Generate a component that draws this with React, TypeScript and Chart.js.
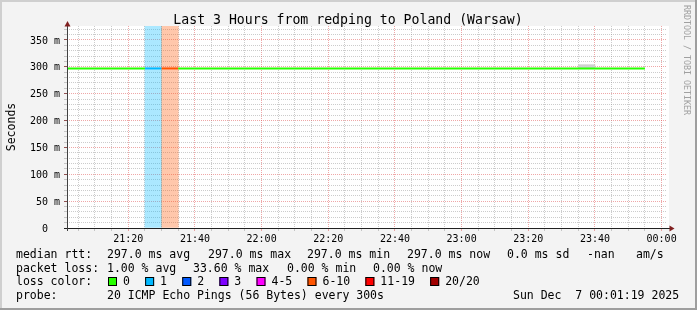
import { useEffect, useRef } from 'react';
import { Chart, registerables } from 'chart.js';

Chart.register(...registerables);

// ---------- data ----------
const TITLE = 'Last 3 Hours from redping to Poland (Warsaw)';
const Y_AXIS_TITLE = 'Seconds';
const WATERMARK = 'RRDTOOL / TOBI OETIKER';

const AXIS_START = '21:01:37';
const AXIS_SPAN_S = 3 * 3600;
const STEP_S = 300;
const Y_MAX_MS = 376;
const Y_MINOR_STEP = 10;
const Y_MAJOR_STEP = 50;
const X_MINOR_STEP_S = 300;
const X_MAJOR_STEP_S = 1200;

const intervalStarts = [
  '21:00', '21:05', '21:10', '21:15', '21:20', '21:25', '21:30', '21:35', '21:40', '21:45', '21:50', '21:55',
  '22:00', '22:05', '22:10', '22:15', '22:20', '22:25', '22:30', '22:35', '22:40', '22:45', '22:50', '22:55',
  '23:00', '23:05', '23:10', '23:15', '23:20', '23:25', '23:30', '23:35', '23:40', '23:45', '23:50',
];
const medianMs = [
  297, 297, 297, 297, 297, 297, 297, 297, 297, 297, 297, 297,
  297, 297, 297, 297, 297, 297, 297, 297, 297, 297, 297, 297,
  297, 297, 297, 297, 297, 297, 297, 297, 297, 297, 297,
];
const lossPings = [
  0, 0, 0, 0, 0, 1, 7, 0, 0, 0, 0, 0,
  0, 0, 0, 0, 0, 0, 0, 0, 0, 0, 0, 0,
  0, 0, 0, 0, 0, 0, 0, 0, 0, 0, 0,
];
const smokeMaxMs: (number | null)[] = [
  null, null, null, null, null, null, null, null, null, null, null, null,
  null, null, null, null, null, null, null, null, null, null, null, null,
  null, null, null, null, null, null, null, 304, null, null, null,
];

const lossBinLabels = ['0', '1', '2', '3', '4-5', '6-10', '11-19', '20/20'];
const lossBinMaxPings = [0, 1, 2, 3, 5, 10, 19, 20];
const lossBinColors = ['#26ff00', '#00b8ff', '#0059ff', '#7e00ff', '#ff00ff', '#ff5500', '#ff0000', '#a10000'];

const legendHeads = ['median rtt:', 'packet loss:', 'loss color:', 'probe:'];
const rttStats = ['297.0 ms avg', '297.0 ms max', '297.0 ms min', '297.0 ms now', '0.0 ms sd', '-nan', 'am/s'];
const lossStats = ['1.00 % avg', '33.60 % max', '0.00 % min', '0.00 % now'];
const probeText = '20 ICMP Echo Pings (56 Bytes) every 300s';
const timestampText = 'Sun Dec  7 00:01:19 2025';

// ---------- helpers ----------
const toSec = (s: string) => {
  const p = s.split(':').map(Number);
  return p[0] * 3600 + p[1] * 60 + (p[2] || 0);
};
const X_MIN = toSec(AXIS_START);
const X_MAX = X_MIN + AXIS_SPAN_S;
const lossBin = (n: number) => {
  for (let i = 0; i < lossBinMaxPings.length; i++) if (n <= lossBinMaxPings[i]) return i;
  return lossBinMaxPings.length - 1;
};
const hexA = (hex: string, a: number) => {
  const v = parseInt(hex.slice(1), 16);
  return `rgba(${(v >> 16) & 255},${(v >> 8) & 255},${v & 255},${a})`;
};
const pad2 = (n: number) => String(n).padStart(2, '0');
const fmtTime = (v: number) => {
  const d = ((v % 86400) + 86400) % 86400;
  return `${pad2(Math.floor(d / 3600))}:${pad2(Math.floor((d % 3600) / 60))}`;
};

const MONO = "'DejaVu Sans Mono', monospace";
const GRID_COLOR = 'rgba(143,143,143,0.46)';
const MGRID_COLOR = 'rgba(224,80,80,0.5)';

const rrdPlugin = {
  id: 'rrdFrame',
  beforeDraw(chart: any) {
    const { ctx, width, height, chartArea: a } = chart;
    ctx.save();
    ctx.fillStyle = '#f3f3f3';
    ctx.fillRect(0, 0, width, height);
    ctx.fillStyle = '#cfcfcf';
    ctx.fillRect(0, 0, width, 2);
    ctx.fillRect(0, 0, 2, height);
    ctx.fillStyle = '#9e9e9e';
    ctx.fillRect(0, height - 2, width, 2);
    ctx.fillRect(width - 2, 0, 2, height);
    ctx.fillStyle = '#ffffff';
    ctx.fillRect(a.left, a.top, a.right - a.left + 2, a.bottom - a.top);
    ctx.restore();
  },
  afterDatasetsDraw(chart: any) {
    const { ctx, chartArea: a } = chart;
    ctx.save();
    ctx.lineWidth = 1;
    // x axis
    ctx.strokeStyle = '#202020';
    ctx.beginPath();
    ctx.moveTo(a.left - 3, a.bottom + 0.5);
    ctx.lineTo(a.right + 3, a.bottom + 0.5);
    ctx.stroke();
    // y axis
    ctx.strokeStyle = '#404040';
    ctx.beginPath();
    ctx.moveTo(a.left + 0.5, a.bottom + 3);
    ctx.lineTo(a.left + 0.5, a.top - 1);
    ctx.stroke();
    // arrows
    ctx.fillStyle = '#802020';
    ctx.beginPath();
    ctx.moveTo(a.right + 2.5, a.bottom - 2.5);
    ctx.lineTo(a.right + 7.5, a.bottom + 0.5);
    ctx.lineTo(a.right + 2.5, a.bottom + 3.5);
    ctx.closePath();
    ctx.fill();
    ctx.beginPath();
    ctx.moveTo(a.left - 2.5, a.top + 0.5);
    ctx.lineTo(a.left + 0.5, a.top - 5);
    ctx.lineTo(a.left + 3.5, a.top + 0.5);
    ctx.closePath();
    ctx.fill();
    ctx.restore();
  },
  afterDraw(chart: any) {
    const { ctx } = chart;
    ctx.save();
    ctx.fillStyle = '#000';
    ctx.textBaseline = 'alphabetic';
    // title
    ctx.font = `13.2px ${MONO}`;
    ctx.textAlign = 'center';
    ctx.fillText(TITLE, 348, 24);
    // y axis title
    ctx.font = `11.5px ${MONO}`;
    ctx.save();
    ctx.translate(15, 127);
    ctx.rotate(-Math.PI / 2);
    ctx.fillText(Y_AXIS_TITLE, 0, 0);
    ctx.restore();
    // watermark
    ctx.save();
    ctx.font = `8.3px ${MONO}`;
    ctx.fillStyle = '#a0a0a0';
    ctx.textAlign = 'left';
    ctx.translate(684, 5);
    ctx.rotate(Math.PI / 2);
    ctx.fillText(WATERMARK, 0, 0);
    ctx.restore();
    // legend
    ctx.font = `11.5px ${MONO}`;
    ctx.textAlign = 'left';
    const rows = [258, 271.5, 285, 298.5];
    const headX = 16;
    legendHeads.forEach((h, i) => ctx.fillText(h, headX, rows[i]));
    const rttX = [107, 208, 307, 407, 507, 587, 636];
    rttStats.forEach((s, i) => ctx.fillText(s, rttX[i], rows[0]));
    const lossX = [107, 193, 287, 373];
    lossStats.forEach((s, i) => ctx.fillText(s, lossX[i], rows[1]));
    let bx = 108;
    lossBinLabels.forEach((lab, i) => {
      ctx.fillStyle = lossBinColors[i];
      ctx.fillRect(bx, rows[2] - 8, 9, 9);
      ctx.strokeStyle = '#000';
      ctx.lineWidth = 1;
      ctx.strokeRect(bx + 0.5, rows[2] - 7.5, 8, 8);
      ctx.fillStyle = '#000';
      const tx = bx + 15;
      ctx.fillText(lab, tx, rows[2]);
      bx = tx + ctx.measureText(lab).width + 15.2;
    });
    ctx.fillText(probeText, 107, rows[3]);
    ctx.fillText(timestampText, 513, rows[3]);
    ctx.restore();
  },
};

export default function App() {
  const ref = useRef<HTMLCanvasElement | null>(null);

  useEffect(() => {
    document.body.style.margin = '0';
    const canvas = ref.current!;
    const starts = intervalStarts.map(toSec);
    const centers = starts.map((s) => s + STEP_S / 2);

    const linePoints = starts.map((s, i) => ({ x: s, y: medianMs[i] }));
    linePoints.push({ x: starts[starts.length - 1] + STEP_S, y: medianMs[medianMs.length - 1] });

    const bandData = centers.map((c, i) => ({ x: c, y: lossPings[i] > 0 ? [0, Y_MAX_MS] : null }));
    const smokeData = centers.map((c, i) => ({
      x: c,
      y: smokeMaxMs[i] != null ? [medianMs[i], smokeMaxMs[i]] : null,
    }));

    const chart = new Chart(canvas, {
      type: 'line',
      data: {
        datasets: [
          {
            type: 'line',
            data: linePoints as any,
            borderColor: lossBinColors[0],
            borderWidth: 2,
            pointRadius: 0,
            stepped: true,
            borderCapStyle: 'butt',
            clip: 0,
            order: 0,
            segment: {
              borderColor: (ctx: any) => lossBinColors[lossBin(lossPings[ctx.p0DataIndex] || 0)],
            },
          } as any,
          {
            type: 'bar',
            data: smokeData as any,
            backgroundColor: '#d0d0d0',
            borderWidth: 0,
            barPercentage: 1,
            categoryPercentage: 1,
            grouped: false,
            order: 1,
          } as any,
          {
            type: 'bar',
            data: bandData as any,
            backgroundColor: (ctx: any) => hexA(lossBinColors[lossBin(lossPings[ctx.dataIndex] || 0)], 0.33),
            borderWidth: 0,
            barPercentage: 1,
            categoryPercentage: 1,
            grouped: false,
            order: 2,
          } as any,
        ],
      },
      options: {
        responsive: false,
        animation: false,
        events: [],
        layout: { padding: { top: 26, right: 30, left: 0, bottom: 0 } },
        plugins: {
          legend: { display: false },
          title: { display: false },
          tooltip: { enabled: false },
        },
        scales: {
          x: {
            type: 'linear',
            min: X_MIN,
            max: X_MAX,
            offset: false,
            afterFit: (s: any) => {
              s.height = 82;
            },
            afterBuildTicks: (s: any) => {
              const t = [];
              for (let v = Math.ceil(X_MIN / X_MINOR_STEP_S) * X_MINOR_STEP_S; v <= X_MAX; v += X_MINOR_STEP_S) t.push({ value: v });
              s.ticks = t;
            },
            border: { display: false, dash: [1, 1] },
            grid: {
              offset: false,
              lineWidth: 1,
              tickLength: 3,
              color: (c: any) => (c.tick && c.tick.value % X_MAJOR_STEP_S === 0 ? MGRID_COLOR : GRID_COLOR),
              tickColor: (c: any) => (c.tick && c.tick.value % X_MAJOR_STEP_S === 0 ? MGRID_COLOR : GRID_COLOR),
            },
            ticks: {
              autoSkip: false,
              maxRotation: 0,
              minRotation: 0,
              padding: 2,
              color: '#000',
              font: { family: MONO, size: 10 },
              callback: (v: any) => (Number(v) % X_MAJOR_STEP_S === 0 ? fmtTime(Number(v)) : ''),
            },
          },
          y: {
            type: 'linear',
            min: 0,
            max: Y_MAX_MS,
            afterFit: (s: any) => {
              s.width = 67;
            },
            afterBuildTicks: (s: any) => {
              const t = [];
              for (let v = 0; v <= Y_MAX_MS; v += Y_MINOR_STEP) t.push({ value: v });
              s.ticks = t;
            },
            border: { display: false, dash: [1, 1] },
            grid: {
              lineWidth: 1,
              tickLength: 3,
              color: (c: any) => (c.tick && c.tick.value % Y_MAJOR_STEP === 0 ? MGRID_COLOR : GRID_COLOR),
              tickColor: (c: any) => (c.tick && c.tick.value % Y_MAJOR_STEP === 0 ? 'rgba(120,40,40,0.8)' : GRID_COLOR),
            },
            ticks: {
              autoSkip: false,
              padding: 4,
              labelOffset: 1,
              color: '#000',
              font: { family: MONO, size: 10 },
              callback: (v: any) => {
                const n = Number(v);
                if (n % Y_MAJOR_STEP !== 0) return '';
                return n === 0 ? '0  ' : `${n} m`;
              },
            },
          },
        },
      } as any,
      plugins: [rrdPlugin as any],
    });
    return () => chart.destroy();
  }, []);

  return <canvas ref={ref} width={697} height={310} style={{ display: 'block' }} />;
}
